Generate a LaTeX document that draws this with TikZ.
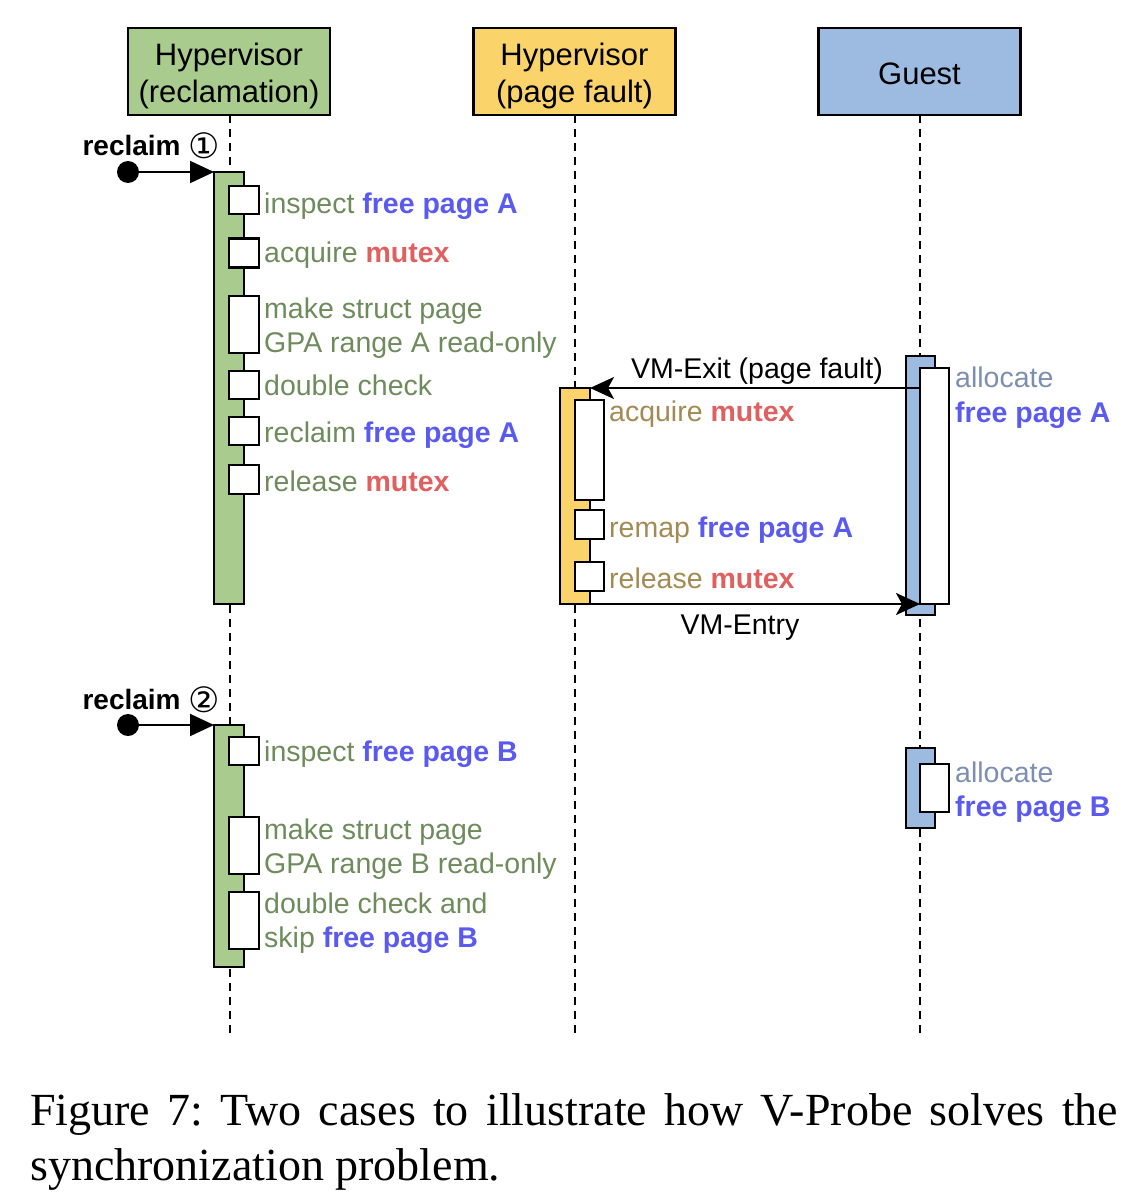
\documentclass[tikz,border=0pt]{standalone}
\usepackage{fontspec}
\setmainfont{Liberation Sans}
\newfontfamily\dejavu{DejaVu Sans}
\newfontfamily\capfont{Liberation Serif}
\usetikzlibrary{arrows.meta}
\definecolor{hgreen}{HTML}{A9CB8D}
\definecolor{hyellow}{HTML}{FAD46B}
\definecolor{hblue}{HTML}{9DBAE0}
\definecolor{tgreen}{HTML}{6E8B5C}
\definecolor{tyellow}{HTML}{A38A52}
\definecolor{tgray}{HTML}{7D8FB0}
\definecolor{tblue}{HTML}{5A5AF0}
\definecolor{tred}{HTML}{E06060}
\newcommand\bluetxt[1]{\textcolor{tblue}{\bfseries #1}}
\newcommand\redtxt[1]{\textcolor{tred}{\bfseries #1}}
\newcommand\circnum[1]{\raisebox{-3pt}{\dejavu\mdseries\fontsize{35}{34}\selectfont #1}}
\tikzset{
  hdr/.style={draw, line width=2.5pt, minimum width=202pt, minimum height=87pt, inner sep=0pt},
  hdrtxt/.style={inner sep=0pt, align=center, font=\fontsize{31}{37}\selectfont},
  life/.style={line width=2.2pt, dash pattern=on 8pt off 6pt},
  actbar/.style={draw, line width=2.5pt, inner sep=0pt, outer sep=0pt, minimum width=30pt},
  wbox/.style={draw, line width=2.5pt, fill=white, inner sep=0pt, outer sep=0pt, minimum width=30pt},
  lbl/.style={anchor=base west, inner sep=0pt, font=\fontsize{28.5}{34}\selectfont},
  glbl/.style={lbl, text=tgreen},
  ylbl/.style={lbl, text=tyellow},
  msg/.style={anchor=base, inner sep=0pt, font=\fontsize{28.5}{34}\selectfont},
  rclbl/.style={anchor=base east, inner sep=0pt, font=\fontsize{28}{34}\selectfont\bfseries},
  dot/.style={circle, fill=black, inner sep=0pt, minimum size=22pt},
  startarrow/.style={line width=2pt, -{Triangle[length=24pt,width=22pt]}},
  msgarrow/.style={line width=2.5pt, -{Stealth[length=24pt,width=22pt,inset=6pt]}},
}
\begin{document}
\begin{tikzpicture}[x=1pt,y=-1pt]
\useasboundingbox (0,0) rectangle (1146,1204);
% headers
\node[hdr, fill=hgreen] (h1) at (229,71.5) {};
\node[hdr, fill=hyellow] (h2) at (574.5,71.5) {};
\node[hdr, fill=hblue] (h3) at (919.5,71.5) {};
\node[hdrtxt, yshift=-4pt] (h1t) at (h1.center) {Hypervisor\\(reclamation)};
\node[hdrtxt, yshift=-4pt] (h2t) at (h2.center) {Hypervisor\\(page fault)};
\node[hdrtxt, yshift=-2pt] (h3t) at (h3.center) {Guest};
% lifeline ends
\coordinate (s1) at (230,115);
\coordinate (s2) at (575,115);
\coordinate (s3) at (920,115);
\coordinate (e1) at (230,1035);
\coordinate (e2) at (575,1035);
\coordinate (e3) at (920,1035);
\draw[life] (s1) -- (e1);
\draw[life] (s2) -- (e2);
\draw[life] (s3) -- (e3);

% ---- case 1: reclamation
\node[actbar, fill=hgreen, minimum height=432pt] (g1) at (229,388) {};
\node[wbox, minimum height=28pt] (g1a) at (244,200) {};
\node[wbox, minimum height=29pt] (g1b) at (244,253) {};
\node[wbox, minimum height=57pt] (g1c) at (244,324.5) {};
\node[wbox, minimum height=28pt] (g1d) at (244,385) {};
\node[wbox, minimum height=28pt] (g1e) at (244,431) {};
\node[wbox, minimum height=29pt] (g1f) at (244,479.5) {};

\node[rclbl] (rc1) at (220,155) {reclaim \circnum{①}};
\node[dot] (d1) at (128,172) {};
\draw[startarrow] (d1.center) -- (g1.north west);

\node[glbl] (t1a) at (264,213) {inspect \bluetxt{free page A}};
\node[glbl] (t1b) at (264,262) {acquire \redtxt{mutex}};
\node[glbl] (t1c) at (264,318) {make struct page};
\node[glbl] (t1d) at (264,352) {GPA range A read-only};
\node[glbl] (t1e) at (264,395) {double check};
\node[glbl] (t1f) at (264,442) {reclaim \bluetxt{free page A}};
\node[glbl] (t1g) at (264,491) {release \redtxt{mutex}};

% ---- page fault
\node[actbar, fill=hyellow, minimum height=216pt] (y1) at (575,496) {};
\node[wbox, minimum width=29pt, minimum height=100pt] (y1a) at (589.5,450) {};
\node[wbox, minimum width=29pt, minimum height=29pt] (y1b) at (589.5,524.5) {};
\node[wbox, minimum width=29pt, minimum height=29pt] (y1c) at (589.5,576.5) {};
\node[ylbl] (ty1) at (609,421) {acquire \redtxt{mutex}};
\node[ylbl] (ty2) at (609,537) {remap \bluetxt{free page A}};
\node[ylbl] (ty3) at (609,588) {release \redtxt{mutex}};

% ---- guest 1
\node[actbar, fill=hblue, minimum width=29pt, minimum height=259pt] (b1) at (920.5,485.5) {};
\node[wbox, minimum width=29pt, minimum height=236pt] (b1a) at (934.5,486) {};
\node[lbl, text=tgray] (tb1) at (955,387) {allocate};
\node[lbl] (tb2) at (955,422) {\bluetxt{free page A}};

\draw[msgarrow] (b1a.west |- y1.north) -- (y1.north east);
\node[msg] (vmexit) at (757,378) {VM-Exit (page fault)};
\draw[msgarrow] (y1.south east) -- (b1a.south west);
\node[msg] (vmentry) at (740,634) {VM-Entry};

% ---- case 2
\node[actbar, fill=hgreen, minimum height=242pt] (g2) at (229,846) {};
\node[wbox, minimum height=28pt] (g2a) at (244,751) {};
\node[wbox, minimum height=57pt] (g2b) at (244,845.5) {};
\node[wbox, minimum height=57pt] (g2c) at (244,920.5) {};

\node[rclbl] (rc2) at (220,709) {reclaim \circnum{②}};
\node[dot] (d2) at (128,725) {};
\draw[startarrow] (d2.center) -- (g2.north west);

\node[glbl] (t2a) at (264,761) {inspect \bluetxt{free page B}};
\node[glbl] (t2b) at (264,839) {make struct page};
\node[glbl] (t2c) at (264,873) {GPA range B read-only};
\node[glbl] (t2d) at (264,913) {double check and};
\node[glbl] (t2e) at (264,947) {skip \bluetxt{free page B}};

\node[actbar, fill=hblue, minimum width=29pt, minimum height=80pt] (b2) at (920.5,788) {};
\node[wbox, minimum width=29pt, minimum height=48pt] (b2a) at (934.5,788) {};
\node[lbl, text=tgray] (tb3) at (955,782) {allocate};
\node[lbl] (tb4) at (955,816) {\bluetxt{free page B}};

% caption
\node[anchor=base west, inner sep=0pt, font=\capfont\fontsize{46}{54}\selectfont] (cap1) at (30,1125) {\frenchspacing\makebox[1088pt][s]{Figure 7: Two cases to illustrate how V-Probe solves the}};
\node[anchor=base west, inner sep=0pt, font=\capfont\fontsize{46}{54}\selectfont] (cap2) at (30,1180) {synchronization problem.};
\end{tikzpicture}
\end{document}
